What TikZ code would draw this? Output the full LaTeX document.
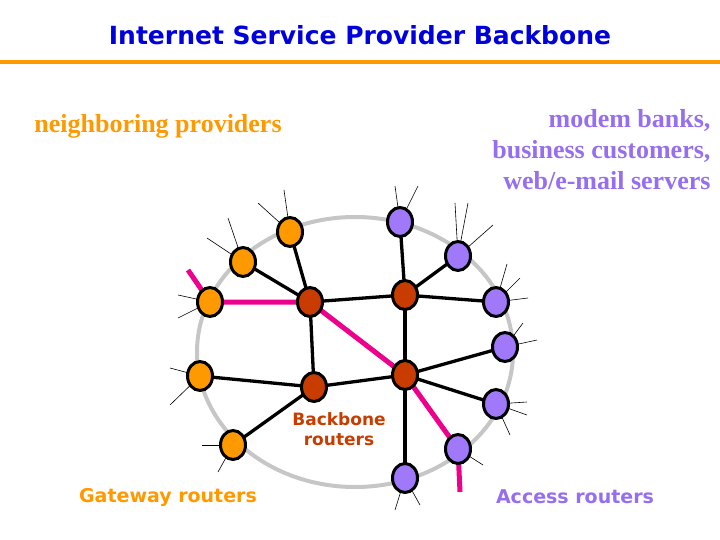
\documentclass[tikz,border=0pt]{standalone}
\usetikzlibrary{shapes.geometric,backgrounds}
\usepackage{fontspec}
\setmainfont{Liberation Serif}
\newfontfamily\sans{DejaVu Sans}
\definecolor{ttl}{RGB}{0,0,220}
\definecolor{org}{RGB}{255,153,0}
\definecolor{brn}{RGB}{200,60,0}
\definecolor{pur}{RGB}{150,110,240}
\definecolor{pfill}{RGB}{160,120,250}
\begin{document}
\begin{tikzpicture}[x=1pt,y=-1pt,
 r/.style={ellipse,draw=black,line width=3pt,minimum width=25pt,minimum height=29pt,inner sep=0pt},
 gw/.style={r,fill=org},
 bb/.style={r,fill=brn},
 ac/.style={r,fill=pfill},
 e/.style={line width=3.3pt},
 m/.style={line width=5pt,draw=magenta},
 s/.style={line width=0.6pt}]
\useasboundingbox (0,0) rectangle (720,540);
\node[text=ttl,font=\sans\bfseries\fontsize{25}{30}\selectfont] (title) at (360,35) {Internet Service Provider Backbone};
\draw[org,line width=4pt] (0,62) -- (720,62);
\node[text=org,font=\bfseries\fontsize{26}{30}\selectfont] (np) at (158,126) {neighboring providers};
\node[text=pur,font=\bfseries\fontsize{26}{31}\selectfont,align=right,anchor=east] (mb) at (714,150) {modem banks,\\business customers,\\web/e-mail servers};
\node[text=org,font=\sans\bfseries\fontsize{19}{22}\selectfont] (gl) at (168,497) {Gateway routers};
\node[text=pur,font=\sans\bfseries\fontsize{19}{22}\selectfont] (al) at (575,497) {Access routers};
\node[text=brn,font=\sans\bfseries\fontsize{17}{20}\selectfont,align=center] (bl) at (339,429) {Backbone\\routers};
\coordinate (m1) at (188,270); \coordinate (m2) at (460,492);
\node[gw] (O1) at (290,232) {}; \node[gw] (O2) at (243,262) {};
\node[gw] (O3) at (210,302) {}; \node[gw] (O4) at (200,376) {};
\node[gw] (O5) at (233,445) {};
\node[ac] (P1) at (400,222) {}; \node[ac] (P2) at (458,256) {};
\node[ac] (P3) at (496,302) {}; \node[ac] (P4) at (505,347) {};
\node[ac] (P5) at (496,404) {}; \node[ac] (P6) at (458,449) {};
\node[ac] (P7) at (405,478) {};
\node[bb] (B1) at (310,302) {}; \node[bb] (B2) at (405,295) {};
\node[bb] (B3) at (405,375) {}; \node[bb] (B4) at (314,387) {};
\begin{scope}[on background layer]
\draw[gray!45,line width=4pt] (355,352) ellipse (158 and 135);
\foreach \n/\a/\b in {O1/284/190,O1/258/203,O2/228/218,O2/207/238,O3/178/318,O3/178/295,O4/170/368,O4/170/405,O5/202/445,O5/218/472,
 P1/395/186,P1/418/186,P2/455/203,P2/468/203,P2/493/225,P3/507/264,P3/520/278,P3/528/298,P4/523/323,P4/537/340,
 P5/527/402,P5/527/415,P5/510/435,P6/483/465,P7/395/510,P7/420/505}
 \draw[s] (\n.center) -- (\a,\b);
\foreach \a/\b in {O1/B1,O2/B1,B1/B2,B1/B4,B2/P1,B2/P2,B2/P3,B2/B3,B3/P4,B3/P5,B3/P7,B4/O4,B4/O5,B3/B4}
 \draw[e] (\a.center) -- (\b.center);
\draw[m] (m1) -- (O3.center) -- (B1.center) -- (B3.center) -- (P6.center) -- (m2);
\end{scope}
\end{tikzpicture}
\end{document}
